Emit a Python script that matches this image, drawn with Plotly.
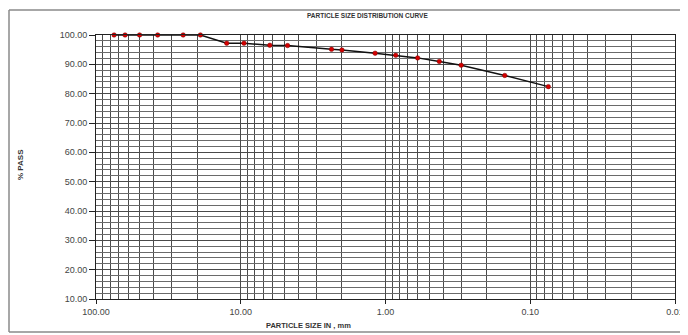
import plotly.graph_objects as go

# Data
sizes_mm = [75, 63, 50, 37.5, 25, 19, 12.5, 9.5, 6.3, 4.75, 2.36, 2.0, 1.18, 0.85, 0.6, 0.425, 0.3, 0.15, 0.075]
pct_pass = [100.0, 100.0, 100.0, 100.0, 100.0, 100.0, 97.2, 97.2, 96.5, 96.4, 95.1, 94.9, 93.8, 93.1, 92.2, 91.0, 89.7, 86.2, 82.4]

x_tick_vals = [100, 10, 1, 0.1, 0.01]
x_tick_text = ["100.00", "10.00", "1.00", "0.10", "0.01"]
y_tick_vals = [10, 20, 30, 40, 50, 60, 70, 80, 90, 100]
y_tick_text = ["10.00", "20.00", "30.00", "40.00", "50.00", "60.00", "70.00", "80.00", "90.00", "100.00"]

minor_x = [m * d for d in (0.01, 0.1, 1, 10) for m in range(2, 10)]

OFF = 8  # page body margin
W, H = 688 - OFF, 335 - OFF
# plot area in window pixels: x 96..675, y 35..299
L = 96 - OFF
T = 35 - OFF
R = W - (675 - OFF)
B = H - (299 - OFF)
pw, ph = W - L - R, H - T - B

def px(xw):
    return (xw - OFF - L) / pw

def py(yw):
    return (H - B - (yw - OFF)) / ph

fig = go.Figure()
fig.add_trace(go.Scatter(
    x=sizes_mm, y=pct_pass, mode="lines+markers",
    line=dict(color="#111111", width=1.5),
    marker=dict(color="#d40000", size=4.5, line=dict(color="#7a0000", width=0.5)),
    showlegend=False, cliponaxis=False,
))

grid_col = "#4a4a4a"
fig.update_xaxes(
    type="log", range=[2, -2], autorange=False,
    tickmode="array", tickvals=x_tick_vals, ticktext=x_tick_text,
    showgrid=True, gridcolor=grid_col, gridwidth=1,
    minor=dict(tickmode="array", tickvals=minor_x, showgrid=True, gridcolor=grid_col, gridwidth=1, ticks=""),
    ticks="outside", ticklen=4, tickcolor="#222",
    showline=True, linecolor="#222", linewidth=1, mirror=True,
    tickfont=dict(family="Liberation Sans, Arial", size=9, color="#444"),
    zeroline=False, automargin=False, ticklabeloverflow="allow",
)
fig.update_yaxes(
    range=[10, 100], autorange=False,
    tickmode="array", tickvals=y_tick_vals, ticktext=y_tick_text,
    showgrid=True, gridcolor=grid_col, gridwidth=1,
    minor=dict(dtick=2, tick0=10, showgrid=True, gridcolor="#6a6a6a", gridwidth=1, ticks=""),
    ticks="outside", ticklen=6, tickcolor="#222",
    showline=True, linecolor="#222", linewidth=1, mirror=True,
    tickfont=dict(family="Liberation Sans, Arial", size=9, color="#444"),
    zeroline=False, automargin=False,
)

frame = dict(color="#8a8a8a", width=1.5)
fx0, fx1, fy0, fy1 = px(9), px(720), py(332), py(10)
fig.update_layout(
    width=W, height=H,
    margin=dict(l=L, r=R, t=T, b=B, autoexpand=False),
    paper_bgcolor="white", plot_bgcolor="white",
    shapes=[
        dict(type="line", xref="paper", yref="paper", x0=fx0, x1=fx1, y0=fy1, y1=fy1, line=frame, layer="above"),
        dict(type="line", xref="paper", yref="paper", x0=fx0, x1=fx1, y0=fy0, y1=fy0, line=frame, layer="above"),
        dict(type="line", xref="paper", yref="paper", x0=fx0, x1=fx0, y0=fy0, y1=fy1, line=frame, layer="above"),
    ],
    annotations=[
        dict(text="<b>PARTICLE SIZE DISTRIBUTION CURVE</b>", xref="paper", yref="paper",
             x=px(367), y=py(15), xanchor="center", yanchor="middle", showarrow=False,
             font=dict(family="Liberation Sans, Arial", size=6.5, color="#333")),
        dict(text="<b>PARTICLE SIZE IN , mm</b>", xref="paper", yref="paper",
             x=px(308), y=py(325), xanchor="center", yanchor="middle", showarrow=False,
             font=dict(family="Liberation Sans, Arial", size=7.5, color="#333")),
        dict(text="<b>% PASS</b>", xref="paper", yref="paper",
             x=px(20), y=py(164), xanchor="center", yanchor="middle", showarrow=False, textangle=-90,
             font=dict(family="Liberation Sans, Arial", size=8, color="#333")),
    ],
)

fig.write_html("out.html")
